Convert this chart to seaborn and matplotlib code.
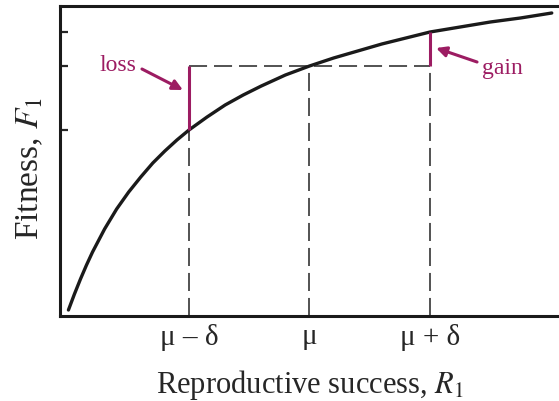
import numpy as np
import pandas as pd
import seaborn as sns
import matplotlib.pyplot as plt

# curve: reproductive success R1 vs fitness F1
r_vals = [1.00, 1.05, 1.10, 1.15, 1.20, 1.30, 1.40, 1.50, 1.60, 1.70, 1.80,
          1.90, 2.00, 2.15, 2.30, 2.45, 2.60, 2.80, 3.00, 3.20, 3.40, 3.60,
          3.80, 4.00, 4.25, 4.50, 4.75, 5.01]
f_vals = [0.06, 0.22, 0.37, 0.51, 0.64, 0.87, 1.07, 1.24, 1.39, 1.53, 1.65,
          1.76, 1.86, 1.99, 2.11, 2.21, 2.30, 2.41, 2.50, 2.58, 2.65, 2.72,
          2.78, 2.84, 2.89, 2.94, 2.98, 3.03]

# mu - delta, mu, mu + delta
r_marks = [2.0, 3.0, 4.0]
f_marks = [1.86, 2.50, 2.84]
r_labels = ['\u03bc \u2013 \u03b4', '\u03bc', '\u03bc + \u03b4']

magenta = '#9c1c62'
dash_col = '#444444'

df = pd.DataFrame({'R': r_vals, 'F': f_vals})

sns.set_style('ticks')
plt.rcParams['font.family'] = ['Liberation Serif', 'DejaVu Serif']
plt.rcParams['mathtext.fontset'] = 'stix'
plt.rcParams['lines.scale_dashes'] = False

fig = plt.figure(figsize=(5.59, 4.02), dpi=100)
ax = fig.add_axes([60 / 559, 85 / 402, 499 / 559, 310 / 402])

# dashed guides
ax.plot([r_marks[0], r_marks[0]], [0, f_marks[0]], color=dash_col, lw=1.3, dashes=(13, 5))
ax.plot([r_marks[1], r_marks[1]], [0, f_marks[1]], color=dash_col, lw=1.3, dashes=(13, 5))
ax.plot([r_marks[2], r_marks[2]], [0, f_marks[1]], color=dash_col, lw=1.3, dashes=(13, 5))
ax.plot([r_marks[0], r_marks[2]], [f_marks[1], f_marks[1]], color=dash_col, lw=1.3, dashes=(13, 5))

sns.lineplot(data=df, x='R', y='F', ax=ax, color='#1a1a1a', lw=2.4, sort=False)

# loss and gain segments
ax.plot([r_marks[0], r_marks[0]], [f_marks[0], f_marks[1]], color=magenta, lw=2.2, solid_capstyle='butt')
ax.plot([r_marks[2], r_marks[2]], [f_marks[1], f_marks[2]], color=magenta, lw=2.2, solid_capstyle='butt')

ax.text(1.41, 2.46, 'loss', color=magenta, fontsize=17, ha='center', va='baseline')
ax.text(4.60, 2.43, 'gain', color=magenta, fontsize=17, ha='center', va='baseline')
arrow = dict(arrowstyle='-|>', color=magenta, lw=2.2, mutation_scale=15, shrinkA=0, shrinkB=0)
ax.annotate('', xy=(1.95, 2.26), xytext=(1.61, 2.47), arrowprops=arrow)
ax.annotate('', xy=(4.05, 2.68), xytext=(4.39, 2.54), arrowprops=arrow)

ax.set_xlim(0.93, 5.07)
ax.set_ylim(0, 3.10)
ax.set_xticks(r_marks)
ax.set_xticklabels(r_labels, fontsize=21)
ax.set_yticks(f_marks)
ax.set_yticklabels([])
ax.tick_params(axis='x', length=0, pad=5)
ax.tick_params(axis='y', direction='in', length=6, width=1.6)

for side in ['left', 'bottom', 'top']:
    ax.spines[side].set_linewidth(2.2)
    ax.spines[side].set_color('#1a1a1a')
ax.spines['right'].set_visible(False)

ax.set_xlabel('Reproductive success, $R_1$', fontsize=22)
ax.set_ylabel('Fitness, $F_1$', fontsize=24)
ax.xaxis.set_label_coords(0.5, -0.165)
ax.yaxis.set_label_coords(-0.03, 0.48)

fig.savefig('out.png', dpi=100)
